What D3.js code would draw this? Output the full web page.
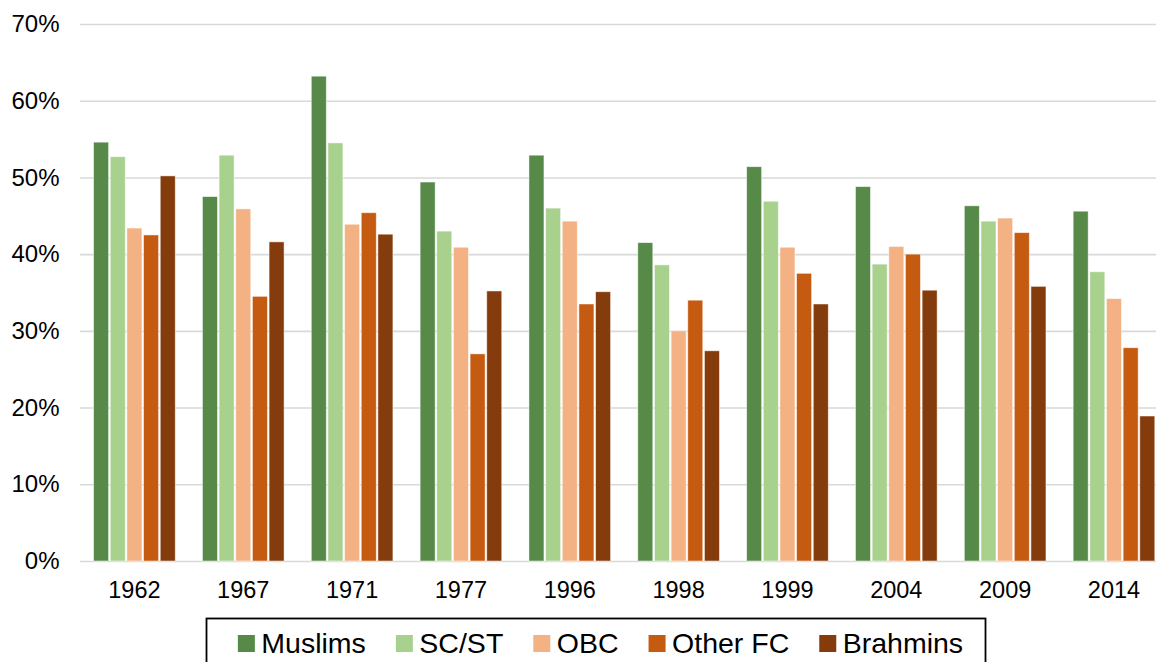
<!DOCTYPE html>
<html>
<head>
<meta charset="utf-8">
<script src="https://cdn.jsdelivr.net/npm/d3@7"></script>
<style>
  body { margin: 0; background: #fff; }
  svg { display: block; font-family: "Liberation Sans", Arial, sans-serif; }
</style>
</head>
<body>
<div class="barChart"></div>
<script>
const years = ["1962", "1967", "1971", "1977", "1996", "1998", "1999", "2004", "2009", "2014"];
const seriesNames = ["Muslims", "SC/ST", "OBC", "Other FC", "Brahmins"];
const muslims  = [54.6, 47.5, 63.2, 49.4, 52.9, 41.5, 51.4, 48.8, 46.3, 45.6];
const scst     = [52.7, 52.9, 54.5, 43.0, 46.0, 38.6, 46.9, 38.7, 44.3, 37.7];
const obc      = [43.4, 45.9, 43.9, 40.9, 44.3, 30.0, 40.9, 41.0, 44.7, 34.2];
const otherFC  = [42.5, 34.5, 45.4, 27.0, 33.5, 34.0, 37.5, 40.0, 42.8, 27.8];
const brahmins = [50.2, 41.6, 42.6, 35.2, 35.1, 27.4, 33.5, 35.3, 35.8, 18.9];
const yTicks = [0, 10, 20, 30, 40, 50, 60, 70];
const colors = ["#578a48", "#a9d18e", "#f4b183", "#c55a11", "#843c0c"];

const width = 1156;
const height = 662;
const allSeries = [muslims, scst, obc, otherFC, brahmins];

// one row per year, value per series
const rows = years.map((yr, i) => ({
  year: yr,
  values: seriesNames.map((s, j) => ({ key: s, value: allSeries[j][i] }))
}));

const svg = d3.select(".barChart")
              .append("svg")
              .attr("width", width)
              .attr("height", height);

const x0 = d3.scaleBand()
            .domain(years)
            .range([80, 1168.4]);

const bw = x0.bandwidth();
const x1 = d3.scaleBand()
            .domain(seriesNames)
            .range([bw * 0.125, bw * 0.875])
            .paddingInner(0.1);

const y = d3.scaleLinear()
            .domain([0, 70])
            .range([561, 24]);

const color = d3.scaleOrdinal().domain(seriesNames).range(colors);

// gridlines + y labels
const yAxis = d3.axisLeft(y)
                .tickValues(yTicks)
                .tickSize(-(1168 - 80))
                .tickPadding(20.5)
                .tickFormat(d => d + "%");

svg.append("g")
   .attr("transform", "translate(80,0)")
   .call(yAxis)
   .call(g => g.select(".domain").remove())
   .call(g => g.selectAll(".tick line").attr("stroke", "#d9d9d9").attr("stroke-width", 1.6))
   .call(g => g.selectAll(".tick text")
               .attr("font-size", 24)
               .attr("fill", "#000")
               .attr("font-family", "Liberation Sans, Arial, sans-serif"));

// bars
svg.append("g")
   .selectAll("g")
   .data(rows)
   .enter()
   .append("g")
   .attr("transform", d => `translate(${x0(d.year)},0)`)
   .selectAll("rect")
   .data(d => d.values)
   .enter()
   .append("rect")
   .attr("x", d => x1(d.key))
   .attr("y", d => y(d.value))
   .attr("width", x1.bandwidth())
   .attr("height", d => y(0) - y(d.value))
   .attr("fill", d => color(d.key))
   .attr("stroke", "rgba(255,255,255,0.6)")
   .attr("stroke-width", 0.8);

// x labels
const xAxis = d3.axisBottom(x0).tickSize(0).tickPadding(20);

svg.append("g")
   .attr("transform", `translate(0,${y(0)})`)
   .call(xAxis)
   .call(g => g.select(".domain").remove())
   .call(g => g.selectAll(".tick text")
               .attr("font-size", 23.5)
               .attr("fill", "#000")
               .attr("font-family", "Liberation Sans, Arial, sans-serif"));

// legend
const legend = svg.append("g");

legend.append("rect")
      .attr("x", 206.5)
      .attr("y", 618.5)
      .attr("width", 779)
      .attr("height", 60)
      .attr("fill", "#fff")
      .attr("stroke", "#000")
      .attr("stroke-width", 1.8);

const items = legend.selectAll("g.item")
                    .data(seriesNames)
                    .enter()
                    .append("g")
                    .attr("class", "item");

items.append("rect")
     .attr("width", 17)
     .attr("height", 17)
     .attr("y", 635)
     .attr("fill", d => color(d));

items.append("text")
     .text(d => d)
     .attr("y", 652.5)
     .attr("font-size", 28.5)
     .attr("fill", "#000");

// lay out items by measured text width
const gapText = 6.5, gapItem = 30;
const widths = [];
items.select("text").each(function() { widths.push(this.getComputedTextLength()); });
const total = d3.sum(widths) + seriesNames.length * (17 + gapText) + (seriesNames.length - 1) * gapItem;
let cx = 600.5 - total / 2;
items.each(function(d, i) {
  d3.select(this).select("rect").attr("x", cx);
  d3.select(this).select("text").attr("x", cx + 17 + gapText);
  cx += 17 + gapText + widths[i] + gapItem;
});
</script>
</body>
</html>
